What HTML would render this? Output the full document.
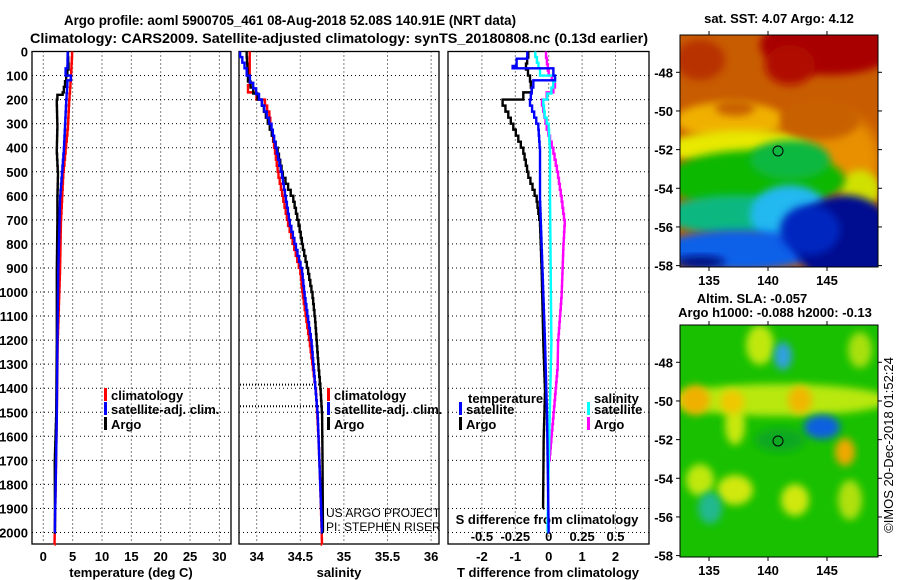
<!DOCTYPE html>
<html><head><meta charset="utf-8"><style>
html,body{margin:0;padding:0;background:#fff;}
svg{display:block;font-family:"Liberation Sans",sans-serif;}
.b{font-weight:bold;font-size:13px;}
.t{font-weight:bold;font-size:14px;}
</style></head><body>
<svg id="fig" width="900" height="580" viewBox="0 0 900 580">
<defs>
<filter id="bl" x="-30%" y="-30%" width="160%" height="160%"><feGaussianBlur stdDeviation="6"/></filter>
<filter id="bl2" x="-30%" y="-30%" width="160%" height="160%"><feGaussianBlur stdDeviation="4"/></filter>
<clipPath id="c1"><rect x="680" y="35" width="198" height="232"/></clipPath>
<clipPath id="c2"><rect x="680" y="325" width="198" height="232"/></clipPath>
</defs>
<text x="64" y="25" textLength="452" lengthAdjust="spacingAndGlyphs" class="t">Argo profile: aoml 5900705_461 08-Aug-2018 52.08S 140.91E (NRT data)</text>
<text x="30" y="43" textLength="618" lengthAdjust="spacingAndGlyphs" class="t">Climatology: CARS2009. Satellite-adjusted climatology: synTS_20180808.nc (0.13d earlier)</text>
<g id="panels"></g>

<!-- SST map -->
<g>
<text x="779" y="23" text-anchor="middle" class="b">sat. SST: 4.07 Argo: 4.12</text>
<g clip-path="url(#c1)">
<rect x="680" y="35" width="198" height="232" fill="#c85c00"/>
<ellipse cx="830" cy="45" rx="70" ry="30" fill="#a80000" filter="url(#bl2)"/>
<ellipse cx="790" cy="65" rx="25" ry="20" fill="#b01000" filter="url(#bl2)"/>
<ellipse cx="700" cy="60" rx="25" ry="20" fill="#b83000" filter="url(#bl2)"/>
<ellipse cx="730" cy="120" rx="55" ry="18" fill="#f0b000" filter="url(#bl2)"/>
<ellipse cx="735" cy="108" rx="20" ry="8" fill="#c86000" filter="url(#bl2)"/>
<ellipse cx="745" cy="148" rx="80" ry="18" fill="#e8e800" filter="url(#bl2)"/>
<ellipse cx="840" cy="160" rx="40" ry="45" fill="#e89000" filter="url(#bl)"/>
<ellipse cx="820" cy="120" rx="40" ry="20" fill="#c86000" filter="url(#bl2)"/>
<ellipse cx="860" cy="190" rx="20" ry="20" fill="#d0e000" filter="url(#bl2)"/>
<ellipse cx="755" cy="180" rx="90" ry="30" fill="#10b800" filter="url(#bl2)"/>
<ellipse cx="790" cy="160" rx="40" ry="20" fill="#10b840" filter="url(#bl2)"/>
<ellipse cx="735" cy="215" rx="70" ry="20" fill="#10b880" filter="url(#bl2)"/>
<ellipse cx="790" cy="215" rx="40" ry="30" fill="#20b8f0" filter="url(#bl2)"/>
<ellipse cx="740" cy="250" rx="80" ry="20" fill="#1060e8" filter="url(#bl2)"/>
<ellipse cx="845" cy="240" rx="50" ry="45" fill="#001090" filter="url(#bl2)"/>
<ellipse cx="810" cy="230" rx="30" ry="25" fill="#0028c0" filter="url(#bl2)"/>
<ellipse cx="700" cy="262" rx="25" ry="6" fill="#001080" filter="url(#bl2)"/>
</g>
<rect x="680" y="35" width="198" height="232" fill="none" stroke="#000" stroke-width="1"/>
<circle cx="778" cy="151" r="5" fill="none" stroke="#000" stroke-width="1"/>
</g>
<!-- SLA map -->
<g>
<text x="752" y="303" text-anchor="middle" class="b">Altim. SLA: -0.057</text>
<text x="775" y="317" text-anchor="middle" class="b">Argo h1000: -0.088 h2000: -0.13</text>
<g clip-path="url(#c2)">
<rect x="680" y="325" width="198" height="232" fill="#18c000"/>
<ellipse cx="780" cy="400" rx="110" ry="16" fill="#b8e810" filter="url(#bl2)"/>
<ellipse cx="760" cy="345" rx="14" ry="20" fill="#c0e810" filter="url(#bl2)"/>
<ellipse cx="860" cy="350" rx="12" ry="18" fill="#a8e010" filter="url(#bl2)"/>
<ellipse cx="735" cy="425" rx="10" ry="20" fill="#c8e810" filter="url(#bl2)"/>
<ellipse cx="695" cy="400" rx="15" ry="15" fill="#f0b000" filter="url(#bl2)"/>
<ellipse cx="732" cy="402" rx="12" ry="12" fill="#f0c800" filter="url(#bl2)"/>
<ellipse cx="800" cy="400" rx="12" ry="14" fill="#f0b800" filter="url(#bl2)"/>
<ellipse cx="845" cy="452" rx="10" ry="14" fill="#f0a800" filter="url(#bl2)"/>
<ellipse cx="735" cy="490" rx="18" ry="15" fill="#d0e810" filter="url(#bl2)"/>
<ellipse cx="795" cy="500" rx="14" ry="16" fill="#d0e810" filter="url(#bl2)"/>
<ellipse cx="700" cy="480" rx="14" ry="16" fill="#c0e810" filter="url(#bl2)"/>
<ellipse cx="850" cy="500" rx="12" ry="20" fill="#b0e010" filter="url(#bl2)"/>
<ellipse cx="780" cy="440" rx="25" ry="12" fill="#10a820" filter="url(#bl2)"/>
<ellipse cx="783" cy="356" rx="9" ry="14" fill="#30a0e0" filter="url(#bl2)"/>
<ellipse cx="822" cy="427" rx="18" ry="12" fill="#1060e0" filter="url(#bl2)"/>
<ellipse cx="710" cy="508" rx="12" ry="16" fill="#20b890" filter="url(#bl2)"/>
</g>
<rect x="680" y="325" width="198" height="232" fill="none" stroke="#000" stroke-width="1"/>
<circle cx="778" cy="441" r="5" fill="none" stroke="#000" stroke-width="1"/>
<text transform="translate(893,445) rotate(-90)" text-anchor="middle" font-size="13">©IMOS 20-Dec-2018 01:52:24</text>
</g>
<g id="mapaxes"></g>
</svg>
<script>
// ---- data ----
const depthTicks=[0,100,200,300,400,500,600,700,800,900,1000,1100,1200,1300,1400,1500,1600,1700,1800,1900,2000];
const tempTicks=[0,5,10,15,20,25,30];
const salTicks=[34,34.5,35,35.5,36];
const salTickLabels=["34","34.5","35","35.5","36"];
const tdTicks=[-2,-1,0,1,2];
const sdTicks=[-0.5,-0.25,0,0.25,0.5];
const sdTickLabels=["-0.5","-0.25","0","0.25","0.5"];
const latTicks=[-48,-50,-52,-54,-56,-58];
const lonTicks=[135,140,145];

const tArgoDepth=[0,50,100,170,180,200,300,400,500,600,700,900,1200,1500,1700,2000];
const tArgo=[4.2,4.3,3.9,3.3,2.4,2.3,2.4,2.3,2.5,2.4,2.4,2.3,2.3,2.2,1.95,2.0];
const tSatDepth=[0,60,70,100,120,200,400,600,900,1200,1500,1800,2000];
const tSat=[4.15,4.1,3.8,4.7,4.1,3.9,3.5,2.85,2.55,2.4,2.3,2.1,1.95];
const tClimDepth=[0,100,200,300,500,700,900,1200,1500,1800,2050];
const tClim=[4.9,4.7,4.4,4.2,3.4,3.0,2.85,2.45,2.3,2.1,1.9];

const sArgoDepth=[0,100,150,200,300,400,500,600,700,800,900,1000,1100,1200,1300,1380,1500,1700,2000];
const sArgo=[33.885,33.9,33.96,34.06,34.15,34.24,34.3,34.42,34.48,34.53,34.59,34.64,34.67,34.69,34.71,34.73,34.75,34.755,34.76];
const sSatDepth=[0,70,130,200,300,400,500,700,900,1000,1200,1500,1800,2000];
const sSat=[33.81,33.885,33.96,34.06,34.17,34.23,34.29,34.38,34.52,34.55,34.63,34.7,34.73,34.75];
const sClimDepth=[0,130,140,200,250,400,500,700,900,1000,1200,1400,1600,1800,2050];
const sClim=[33.92,33.92,33.9,34.095,34.145,34.21,34.25,34.36,34.5,34.53,34.61,34.68,34.71,34.73,34.75];

const dtArgoDepth=[0,50,100,150,170,200,250,300,400,500,600,700,900,1200,1400,1600,1900];
const dtArgo=[-0.61,-0.68,-0.56,-0.51,-0.76,-1.38,-1.21,-1.06,-0.76,-0.61,-0.36,-0.26,-0.21,-0.16,-0.11,-0.15,-0.17];
const dtSatDepth=[0,30,60,70,100,120,150,200,300,400,600,800,1000,1200,1500,2000];
const dtSat=[-0.64,-0.96,-1.08,0.14,0.19,-0.46,-0.51,-0.56,-0.31,-0.26,-0.26,-0.21,-0.16,-0.11,-0.05,0.0];
const dsSatDepth=[0,70,100,150,200,250,300,400,600,900,1200,1600,2000];
const dsSat=[-0.1,-0.065,0.047,0.02,-0.04,-0.03,0,0.01,0.01,0.015,0.02,0.004,-0.01];
const dsArgoDepth=[0,80,120,150,170,200,300,400,500,600,700,800,1000,1200,1300,1500,1700];
const dsArgo=[-0.02,0,0.047,0.035,-0.015,-0.05,-0.015,0.035,0.07,0.097,0.12,0.11,0.097,0.07,0.067,0.036,0.004];

// ---- axes ----
const TOP=51.5, BOT=544, PXD=0.2405;
const yD=d=>TOP+d*PXD;
const xT=t=>43.3+t*5.87;
const xS=s=>256.7+(s-34)*87.2;
const xDT=t=>548.7+t*33.4;
const xDS=s=>548.7+s*133.6;
const NS='http://www.w3.org/2000/svg';
const G=document.getElementById('panels');
function mk(tag,attrs,parent){const e=document.createElementNS(NS,tag);for(const k in attrs)e.setAttribute(k,attrs[k]);(parent||G).appendChild(e);return e;}
function txt(x,y,s,anchor,cls,parent){const e=mk('text',{x:x,y:y,'text-anchor':anchor||'start','class':cls||'b'},parent);e.textContent=s;return e;}

const panels=[[32,231],[239,439],[448,649]];
panels.forEach((p,i)=>{
  const g=mk('g',{});
  
  
  depthTicks.forEach(d=>{const l=mk('line',{x1:p[0],x2:p[1],y1:yD(d),y2:yD(d),stroke:'#000','stroke-width':1,'stroke-dasharray':'1,3'},g);
    });
  const r=mk('rect',{x:p[0],y:TOP,width:p[1]-p[0],height:BOT-TOP,fill:'none',stroke:'#000','stroke-width':1.3},g);
  
});
function vgrid(ticks,fx){ticks.forEach(t=>{const l=mk('line',{x1:fx(t),x2:fx(t),y1:TOP,y2:BOT,stroke:'#000','stroke-width':1,'stroke-dasharray':'1,3'});
  });}
vgrid(tempTicks,xT);vgrid(salTicks,xS);vgrid(tdTicks,xDT);

depthTicks.forEach(d=>{const t=txt(28,yD(d)+5,String(d),'end');
  });
tempTicks.forEach(v=>{const t=txt(xT(v),561,String(v),'middle');
  });
salTicks.forEach((v,i)=>{const t=txt(xS(v),561,salTickLabels[i],'middle');
  });
tdTicks.forEach(v=>{const t=txt(xDT(v),561,String(v),'middle');
  });
sdTicks.forEach((v,i)=>{const t=txt(xDS(v),541,sdTickLabels[i],'middle');
  });
let a;
a=txt(131,577,'temperature (deg C)','middle');
a=txt(339,577,'salinity','middle');
a=txt(548,577,'T difference from climatology','middle');
a=txt(547,524,'S difference from climatology','middle');

[[1385,320],[1475,322]].forEach(v=>{const l=mk('line',{x1:240,x2:v[1],y1:yD(v[0]),y2:yD(v[0]),stroke:'#000','stroke-width':2,'stroke-dasharray':'1,2'});
  });

function stepPath(depths,vals,fx){let d='';for(let i=0;i<depths.length;i++){const x=fx(vals[i]),y=yD(depths[i]);
  if(i===0)d+='M'+x+','+y;else{const px=fx(vals[i-1]),py=yD(depths[i-1]);const n=Math.max(1,Math.round((y-py)/6));
    for(let k=1;k<=n;k++){const xx=px+(x-px)*k/n,yy=py+(y-py)*k/n;d+='V'+yy+'H'+xx;}}} return d;}
function series(depths,vals,fx,color,name){const p=mk('path',{d:stepPath(depths,vals,fx),fill:'none',stroke:color,'stroke-width':2.4,'stroke-linejoin':'miter'});
  }
series(tClimDepth,tClim,xT,'#ff0000','temp-climatology-line');
series(tArgoDepth,tArgo,xT,'#000','temp-argo-line');
series(tSatDepth,tSat,xT,'#0000ff','temp-satellite-line');
series(sClimDepth,sClim,xS,'#ff0000','sal-climatology-line');
series(sArgoDepth,sArgo,xS,'#000','sal-argo-line');
series(sSatDepth,sSat,xS,'#0000ff','sal-satellite-line');
series(dsArgoDepth,dsArgo,xDS,'#ff00ff','s-diff-argo-line');
series(dsSatDepth,dsSat,xDS,'#00ffff','s-diff-satellite-line');
series(dtArgoDepth,dtArgo,xDT,'#000','t-diff-argo-line');
series(dtSatDepth,dtSat,xDT,'#0000ff','t-diff-satellite-line');

function legend(x,y,color,label){const g=mk('g',{});
  mk('rect',{x:x,y:y-10,width:3,height:13,fill:color},g);txt(x+7,y+2,label,'start','b',g);}
legend(104,398,'#ff0000','climatology');legend(104,412,'#0000ff','satellite-adj. clim.');legend(104,427,'#000','Argo');
legend(327,398,'#ff0000','climatology');legend(327,412,'#0000ff','satellite-adj. clim.');legend(327,427,'#000','Argo');
a=txt(468,403,'temperature');
legend(459,412,'#0000ff','satellite');legend(459,427,'#000','Argo');
a=txt(594,403,'salinity');
legend(587,412,'#00ffff','satellite');legend(587,427,'#ff00ff','Argo');
a=mk('text',{x:326,y:517,'font-size':12});a.textContent='US ARGO PROJECT';
a=mk('text',{x:326,y:531,'font-size':12});a.textContent='PI: STEPHEN RISER';

const MA=document.getElementById('mapaxes');
const yLat=(lat,top)=>top+37.3+(-48-lat)*19.33;
const xLon=lon=>709+(lon-135)*11.8;
[35,325].forEach((top,mi)=>{
  latTicks.forEach(l=>{const y=yLat(l,top);
    mk('line',{x1:676,x2:680,y1:y,y2:y,stroke:'#000'},MA);mk('line',{x1:878,x2:882,y1:y,y2:y,stroke:'#000'},MA);
    const t=txt(673,y+5,String(l),'end','b',MA);});
  lonTicks.forEach(l=>{const x=xLon(l);mk('line',{x1:x,x2:x,y1:top-4,y2:top,stroke:'#000'},MA);mk('line',{x1:x,x2:x,y1:top+232,y2:top+236,stroke:'#000'},MA);
    const t=txt(x,top+250,String(l),'middle','b',MA);});
});
</script>
</body></html>
